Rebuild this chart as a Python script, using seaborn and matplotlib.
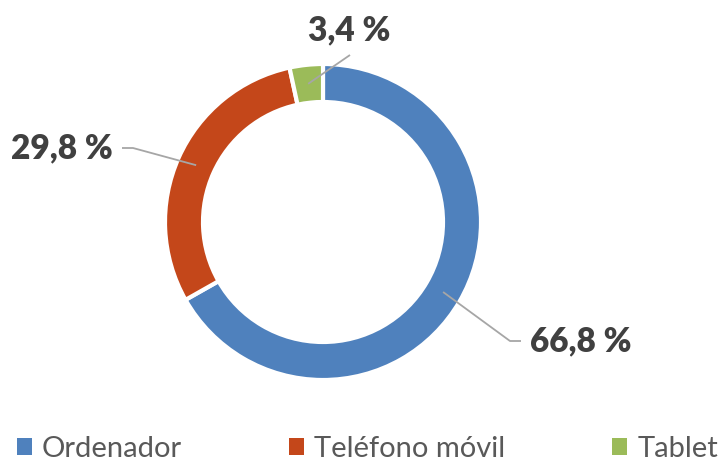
import numpy as np
import matplotlib.pyplot as plt
import seaborn as sns
from matplotlib.patches import Patch

# data
categories = ['Ordenador', 'Teléfono móvil', 'Tablet']
values = [66.8, 29.8, 3.4]
labels = ['66,8 %', '29,8 %', '3,4 %']
colors = ['#4F81BD', '#C4471A', '#9BBB59']

sns.set_theme(style='white')
plt.rcParams['font.family'] = ['Lato', 'DejaVu Sans']

W, H = 722, 462
fig = plt.figure(figsize=(W / 100, H / 100), dpi=100)
ax = fig.add_axes([0, 0, 1, 1])

cx, cy, R = 323, 240, 158
ring = 38
wedges, _ = ax.pie(values, colors=colors, startangle=90, counterclock=False,
                   center=(cx, cy), radius=R, frame=True,
                   wedgeprops=dict(width=ring, edgecolor='white', linewidth=3))
ax.set_xlim(0, W)
ax.set_ylim(0, H)
ax.set_aspect('equal')
ax.axis('off')

# label placement (text position, elbow position, alignment)
label_pos = [(530, 121, 'left'), (113, 314, 'right'), (349, 432, 'center')]
elbows = [(510, 121), (133, 314), None]
line_ends = [(521, 121), (122, 314), (350, 407)]

rmid = R - ring / 2
for w, lab, (tx, ty, ha), elb, end in zip(wedges, labels, label_pos, elbows, line_ends):
    ang = np.deg2rad((w.theta1 + w.theta2) / 2)
    px, py = cx + rmid * np.cos(ang), cy + rmid * np.sin(ang)
    if elb is None:
        xs, ys = [px, end[0]], [py, end[1]]
    else:
        xs, ys = [px, elb[0], end[0]], [py, elb[1], end[1]]
    ax.plot(xs, ys, color='#A6A6A6', lw=1.3, solid_capstyle='butt')
    ax.text(tx, ty, lab, ha=ha, va='center', fontsize=24, fontweight='heavy',
            color='#404040')

handles = [Patch(facecolor=c, edgecolor='none') for c in colors]
leg = fig.legend(handles, categories, loc='lower left',
                 bbox_to_anchor=(17 / W, 0.0, (718 - 17) / W, 0.06), mode='expand',
                 ncol=3, frameon=False, fontsize=21, handlelength=0.5,
                 handleheight=0.5, handletextpad=0.35, borderpad=0, borderaxespad=0,
                 labelcolor='#595959')

fig.savefig('out.png', dpi=100)
